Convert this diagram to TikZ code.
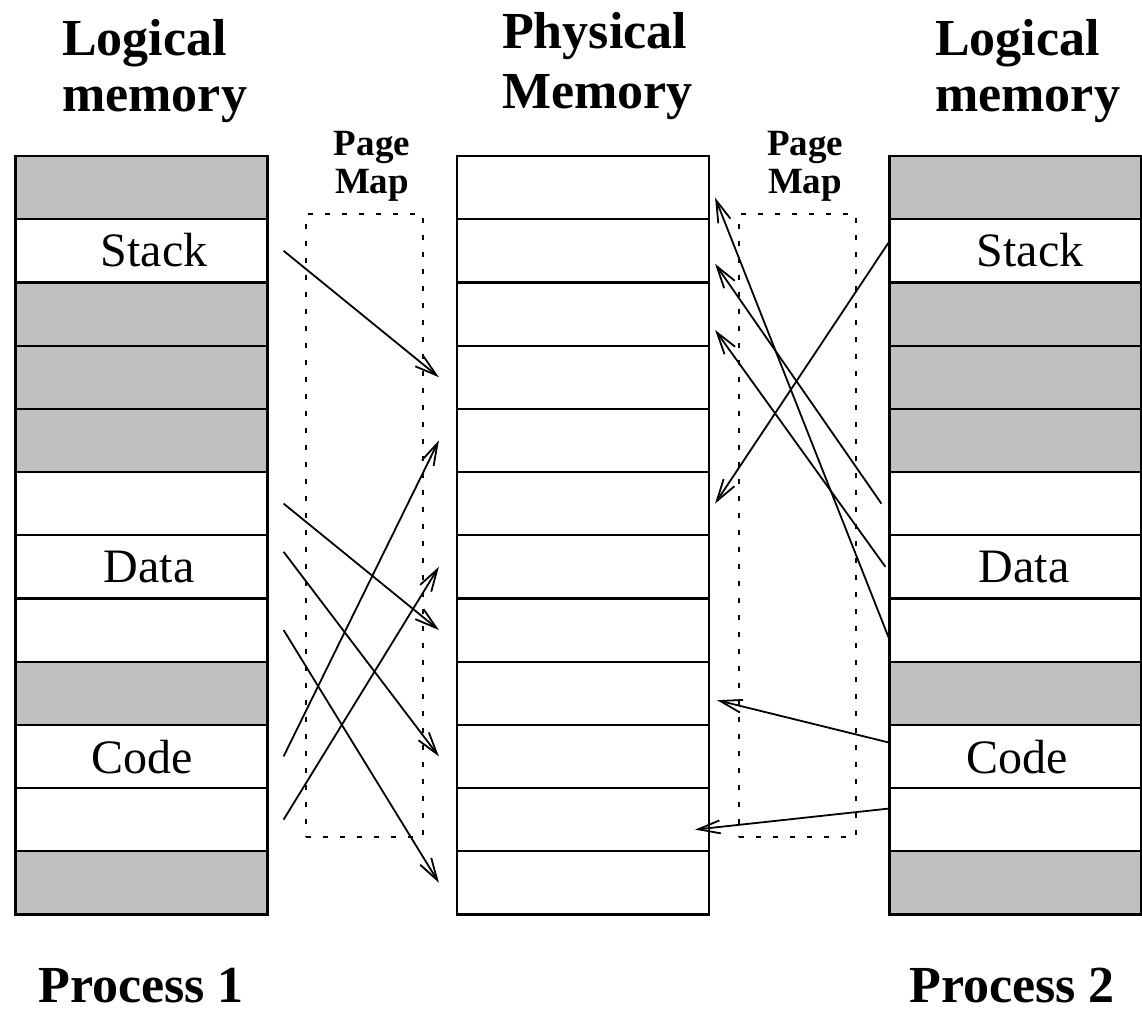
\documentclass[tikz,border=0pt]{standalone}
\usepackage{fontspec}
\setmainfont{Liberation Serif}
\usetikzlibrary{arrows.meta}

\definecolor{shade}{RGB}{192,192,192}

\tikzset{
    cell/.style={draw, minimum width=252pt, minimum height=63.2pt, inner sep=0pt, line width=2.2pt},
    mapbox/.style={draw, dash pattern=on 5pt off 12pt, line width=1.6pt, minimum width=117pt, minimum height=623pt, inner sep=0pt},
    pmap/.style={-{Straight Barb[length=22pt,width=13pt,line width=1.8pt]}, line width=1.8pt},
    head/.style={font=\bfseries\fontsize{52}{56}\selectfont, align=left, inner sep=0pt},
    maplbl/.style={font=\bfseries\fontsize{37}{38}\selectfont, align=center, inner sep=0pt},
    lbl/.style={font=\fontsize{48}{52}\selectfont, inner sep=0pt}
}

\begin{document}
\begin{tikzpicture}[x=1pt, y=-1pt]

    \useasboundingbox (0,0) rectangle (1142,1009);

    % memory cells
    \foreach \i/\c in {1/shade,2/white,3/shade,4/shade,5/shade,6/white,7/white,8/white,9/shade,10/white,11/white,12/shade}{
        \node[cell, fill=\c] (L\i) at (141.5,{156+63.2*(\i-0.5)}) {};
        \node[cell, fill=white] (M\i) at (583,{156+63.2*(\i-0.5)}) {};
        \node[cell, fill=\c] (R\i) at (1015.5,{156+63.2*(\i-0.5)}) {};
    }

    % headings
    \node[head, anchor=north west] (logL) at (62,19) {Logical\\memory};
    \node[head, anchor=north west, font=\bfseries\fontsize{52}{60}\selectfont] (phys) at (502,12) {Physical\\Memory};
    \node[head, anchor=north west] (logR) at (935,19) {Logical\\memory};

    \node[head, anchor=base] (procL) at (141,1002) {Process 1};
    \node[head, anchor=base] (procR) at (1012,1002) {Process 2};

    % page maps
    \node[mapbox] (mapL) at (364.2,525.2) {};
    \node[mapbox] (mapR) at (797.7,525.2) {};
    \node[maplbl, anchor=north] (mapLtxt) at (372,131) {Page\\Map};
    \node[maplbl, anchor=north] (mapRtxt) at (805,131) {Page\\Map};

    % segment labels
    \node[lbl] (stackL) at (154,250) {Stack};
    \node[lbl] (dataL) at (149,567) {Data};
    \node[lbl] (codeL) at (142,757) {Code};
    \node[lbl] (stackR) at (1030,250) {Stack};
    \node[lbl] (dataR) at (1024,567) {Data};
    \node[lbl] (codeR) at (1017,757) {Code};

    % process 1 mapping
    \draw[pmap] ([xshift=15pt]L2.east) -- ([xshift=-17pt]M4.west);
    \draw[pmap] ([xshift=15pt]L6.east) -- ([xshift=-17pt]M8.west);
    \draw[pmap] ([xshift=15pt,yshift=15pt]L7.east) -- ([xshift=-17pt]M10.west);
    \draw[pmap] ([xshift=15pt]L8.east) -- ([xshift=-17pt]M12.west);
    \draw[pmap] ([xshift=15pt]L10.east) -- ([xshift=-17pt]M5.west);
    \draw[pmap] ([xshift=15pt]L11.east) -- ([xshift=-17pt]M7.west);

    % process 2 mapping
    \draw[pmap] ([yshift=8pt]R2.west) -- ([xshift=5pt]M6.east);
    \draw[pmap] ([xshift=-7pt]R6.west) -- ([xshift=5pt,yshift=-13pt]M2.east);
    \draw[pmap] ([xshift=-3pt]R7.west) -- ([xshift=5pt,yshift=-16pt]M3.east);
    \draw[pmap] ([yshift=-7pt]R8.west) -- ([xshift=5pt,yshift=-10pt]M1.east);
    \draw[pmap] ([yshift=14pt]R10.west) -- ([xshift=7pt,yshift=-7pt]M9.east);
    \draw[pmap] ([yshift=11pt]R11.west) -- ([xshift=-15pt,yshift=-10pt]M11.east);

\end{tikzpicture}
\end{document}
